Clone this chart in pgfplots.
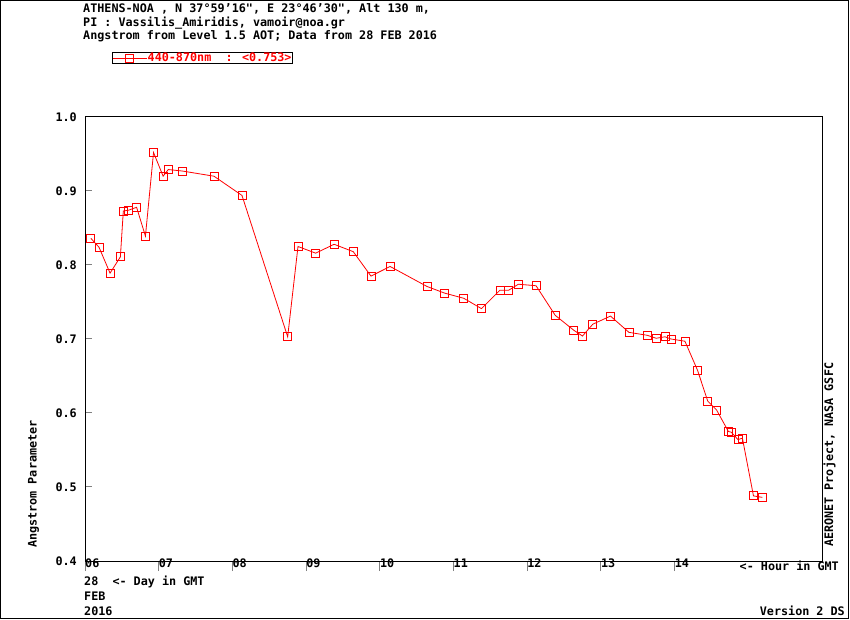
\documentclass[border=0pt]{standalone}
\usepackage{fontspec}
\setmainfont{DejaVu Sans Mono}[Ligatures=TeXOff]
\usepackage{pgfplots}
\pgfplotsset{compat=1.18}
\pgfplotstableread{
x y
6.08 0.836
6.19 0.824
6.34 0.789
6.48 0.811
6.52 0.873
6.59 0.874
6.70 0.878
6.82 0.839
6.93 0.952
7.06 0.920
7.13 0.929
7.32 0.927
7.75 0.920
8.13 0.894
8.75 0.703
8.89 0.825
9.13 0.816
9.38 0.828
9.64 0.818
9.88 0.785
10.14 0.798
10.64 0.771
10.88 0.762
11.14 0.755
11.38 0.741
11.63 0.766
11.75 0.766
11.88 0.774
12.12 0.772
12.38 0.732
12.63 0.712
12.75 0.704
12.89 0.720
13.13 0.731
13.38 0.709
13.63 0.705
13.75 0.701
13.87 0.703
13.95 0.700
14.14 0.697
14.31 0.658
14.45 0.616
14.57 0.604
14.73 0.575
14.77 0.574
14.86 0.564
14.92 0.566
15.07 0.488
15.19 0.486
}\aot
\begin{document}
\fontsize{11.8}{14}\selectfont\bfseries
\begin{tikzpicture}[font=\fontsize{11.8}{14}\selectfont\bfseries]
\useasboundingbox (0bp,0bp) rectangle (850bp,620bp);
\draw[line width=1bp] (0.5bp,1.5bp) rectangle (848bp,619.5bp);
\begin{axis}[
  at={(85bp,59bp)}, anchor=south west,
  scale only axis, width=737bp, height=444bp,
  xmin=6, xmax=16, ymin=0.4, ymax=1.0,
  axis line style={line width=1bp},
  xtick={6,7,8,9,10,11,12,13,14},
  xticklabels={06,07,08,09,10,11,12,13,14},
  ytick={0.4,0.5,0.6,0.7,0.8,0.9,1.0},
  yticklabels={0.4,0.5,0.6,0.7,0.8,0.9,1.0},
  xtick pos=bottom, ytick pos=left,
  xtick align=outside, ytick align=inside,
  major tick length=7bp,
  xtick style={line width=1bp,/pgfplots/major tick length=10bp},
  ytick style={line width=1bp},
  xticklabel style={anchor=base west, inner sep=0pt, xshift=0bp, yshift=1bp},
  yticklabel style={anchor=east, inner sep=0pt, xshift=-8bp},
  legend style={at={(0.0366,1.1464)}, anchor=north west, draw=black, line width=0.8bp,
    inner sep=0pt, font=\fontsize{11.8}{12}\selectfont\bfseries,
    nodes={inner sep=0.5bp}},
  legend cell align=left,
  legend image code/.code={\draw[red, line width=0.8bp, mark repeat=2,mark phase=2] plot coordinates {(0bp,0bp) (17bp,0bp) (34bp,0bp)};},
]
\addplot[red, line width=0.8bp, mark=square, mark size=4bp, mark options={solid, line width=0.8bp}] table[x=x,y=y] {\aot};
\addlegendentry{\textcolor{red}{440-870nm~~: <0.753>}}
\end{axis}
\node[anchor=base west, inner sep=0pt] at (83bp,607bp) {ATHENS-NOA , N 37°59’16", E 23°46’30", Alt 130 m,};
\node[anchor=base west, inner sep=0pt] at (83bp,593.5bp) {PI : Vassilis\_Amiridis, vamoir@noa.gr};
\node[anchor=base west, inner sep=0pt] at (83bp,580bp) {Angstrom from Level 1.5 AOT; Data from 28 FEB 2016};
\node[anchor=base west, inner sep=0pt] at (84bp,34.3bp) {28~~<- Day in GMT};
\node[anchor=base west, inner sep=0pt] at (84bp,19.3bp) {FEB};
\node[anchor=base west, inner sep=0pt] at (84bp,4.3bp) {2016};
\node[anchor=base east, inner sep=0pt] at (845bp,4.3bp) {Version 2 DS};
\node[anchor=base west, inner sep=0pt] at (739.5bp,49.3bp) {<- Hour in GMT};
\node[anchor=base west, inner sep=0pt, rotate=90] at (36.5bp,72bp) {Angstrom Parameter};
\node[anchor=base west, inner sep=0pt, rotate=90] at (833bp,73bp) {AERONET Project, NASA GSFC};
\end{tikzpicture}
\end{document}
